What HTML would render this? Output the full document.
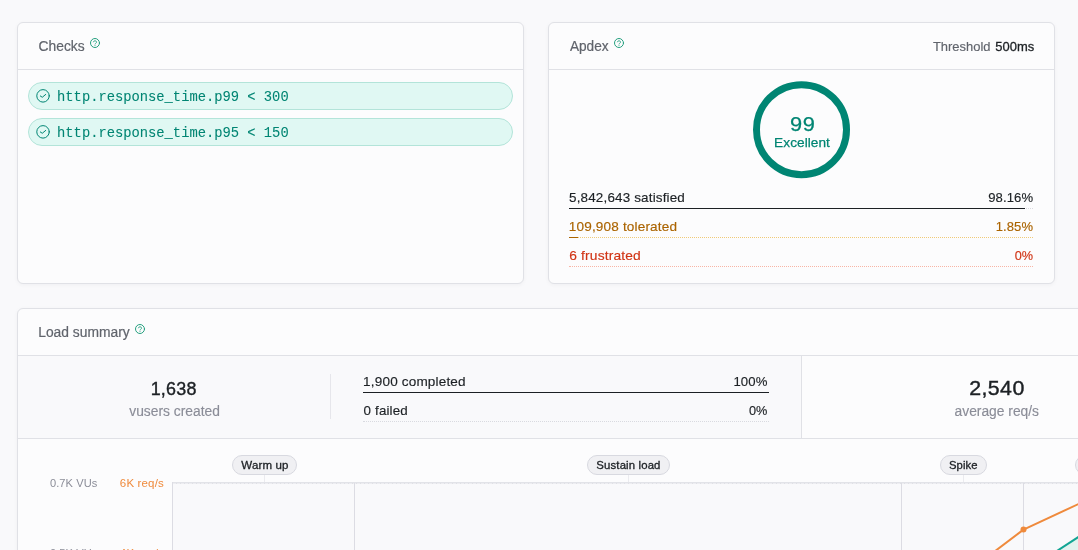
<!DOCTYPE html>
<html lang="en">
<head>
<meta charset="utf-8">
<title>Load test report</title>
<style>
*{box-sizing:border-box;margin:0;padding:0}
html,body{width:1078px;height:550px;overflow:hidden;background:#f9f9fb}
body{font-family:"Liberation Sans",Arial,sans-serif;font-size:14px;line-height:20px;color:#1c2024;position:relative}
main{position:absolute;left:0;top:0;width:1078px;height:550px;overflow:hidden}
h2,h3,dt,dd,li,ul,dl,strong,code{font:inherit;font-weight:normal;list-style:none}
.card{position:absolute;background:#fcfcfd;border:1px solid #e0e1e6;border-radius:6px;box-shadow:0 1px 4px rgba(0,0,45,.045)}
.hd{position:absolute;border-bottom:1px solid #e0e1e6}
.b,.grp{position:absolute}
.ic{position:absolute;display:block;overflow:visible}
.t{position:absolute;left:0;white-space:pre;line-height:20px;height:20px;transform-origin:0 0}
.m{font-family:"Liberation Mono",monospace}
.pill{position:absolute;height:28px;border:1px solid #b3e4d9;background:#e0f8f3;border-radius:14px}
.tag{position:absolute;height:20px;border:1px solid #d8d9e0;background:#f0f0f3;border-radius:10px}
.row{position:absolute;height:21px}
.dots{position:absolute;left:0;bottom:0;width:100%;height:0;border-top:1px dotted #d9dae0}
.bar{position:absolute;left:0;bottom:0;height:1px;background:#1c2024}
.stats{position:absolute;border-bottom:1px solid #e0e1e6}
.stat{position:absolute;top:0;height:82px}
</style>
</head>
<body>
<main class="page" style="left:0px;top:0px">
  <section class="card" style="left:17px;top:22px;width:507px;height:262px">
    <header class="hd" style="left:0px;top:0px;width:505px;height:47px">
      <h2 id="t_checks" class="t" style="top:13px;font-size:14px;color:#60646c;transform:translateX(20.54px) scaleX(0.9874);-webkit-text-stroke:0.2px #60646c">Checks</h2>
      <svg class="ic" style="left:71px;top:14px" width="12" height="12" viewBox="0 0 12 12" fill="none" stroke="#25a07f" stroke-width="1" stroke-linecap="round" stroke-linejoin="round" aria-label="Help" role="img"><circle cx="6" cy="6" r="4.5"/><path d="M4.4 4.9 A1.65 1.65 0 0 1 7.6 5.1 C7.6 6.2 6 6.2 6 7" stroke-width="0.85"/><path d="M6 8.45h.01" stroke-width="0.95"/></svg>
    </header>
    <ul class="grp" style="left:0px;top:47px;width:505px;height:100px">
      <li class="pill" style="left:10px;top:12px;width:485px">
        <svg class="ic" style="left:6px;top:5px" width="16" height="16" viewBox="0 0 16 16" fill="none" stroke="#008573" stroke-width="1" stroke-linecap="round" stroke-linejoin="round" aria-hidden="true"><g transform="translate(0.53 0.36)"><circle cx="7.5" cy="7.5" r="6.25"/><path d="M4.8 7.6 L6.75 8.9 L10.2 6.05"/></g></svg>
        <code id="t_m1" class="t m" style="top:4px;font-size:14px;color:#008573;transform:translateX(28.08px) scaleX(0.9844);-webkit-text-stroke:0.08px #008573">http.response_time.p99 &lt; 300</code>
      </li>
      <li class="pill" style="left:10px;top:48px;width:485px">
        <svg class="ic" style="left:6px;top:5px" width="16" height="16" viewBox="0 0 16 16" fill="none" stroke="#008573" stroke-width="1" stroke-linecap="round" stroke-linejoin="round" aria-hidden="true"><g transform="translate(0.53 0.36)"><circle cx="7.5" cy="7.5" r="6.25"/><path d="M4.8 7.6 L6.75 8.9 L10.2 6.05"/></g></svg>
        <code id="t_m2" class="t m" style="top:4px;font-size:14px;color:#008573;transform:translateX(28.08px) scaleX(0.9844);-webkit-text-stroke:0.08px #008573">http.response_time.p95 &lt; 150</code>
      </li>
    </ul>
  </section>
  <section class="card" style="left:548px;top:22px;width:507px;height:262px">
    <header class="hd" style="left:0px;top:0px;width:505px;height:47px">
      <h2 id="t_apdex" class="t" style="top:13px;font-size:14px;color:#60646c;transform:translateX(20.90px) scaleX(0.9750);-webkit-text-stroke:0.2px #60646c">Apdex</h2>
      <svg class="ic" style="left:64px;top:14px" width="12" height="12" viewBox="0 0 12 12" fill="none" stroke="#25a07f" stroke-width="1" stroke-linecap="round" stroke-linejoin="round" aria-label="Help" role="img"><circle cx="6" cy="6" r="4.5"/><path d="M4.4 4.9 A1.65 1.65 0 0 1 7.6 5.1 C7.6 6.2 6 6.2 6 7" stroke-width="0.85"/><path d="M6 8.45h.01" stroke-width="0.95"/></svg>
      <span id="t_thr" class="t" style="top:14px;font-size:13px;color:#60646c;transform:translateX(383.90px) scaleX(0.9959);-webkit-text-stroke:0.15px #60646c">Threshold</span>
      <strong id="t_500" class="t" style="top:14px;font-size:13px;color:#1c2024;letter-spacing:0.052px;transform:translateX(446.27px) scaleX(0.9958);-webkit-text-stroke:0.3px #1c2024">500ms</strong>
    </header>
    <div class="grp" style="left:202px;top:56px;width:102px;height:102px">
      <svg class="ic" style="left:0;top:0" width="102" height="102" viewBox="0 0 102 102" aria-hidden="true"><circle cx="50.5" cy="50.65" r="45" fill="none" stroke="#008573" stroke-width="7"/></svg>
      <strong id="t_99" class="t" style="top:35px;font-size:21px;color:#008573;letter-spacing:0.420px;transform:translateX(39.10px) scaleX(1.0384);-webkit-text-stroke:0.25px #008573">99</strong>
      <span id="t_exc" class="t" style="top:54px;font-size:13.5px;color:#008573;letter-spacing:0.054px;transform:translateX(23.12px) scaleX(1.0096);-webkit-text-stroke:0.25px #008573">Excellent</span>
    </div>
    <dl class="grp" style="left:20px;top:165px;width:464px;height:79px">
      <div class="row" style="left:0px;top:0px;width:464px">
        <dt id="t_sat" class="t" style="top:0px;font-size:13px;color:#1c2024;letter-spacing:0.156px;transform:translateX(0.06px) scaleX(1.0343);-webkit-text-stroke:0.15px #1c2024">5,842,643 satisfied</dt>
        <dd id="t_satp" class="t" style="top:0px;font-size:13px;color:#1c2024;letter-spacing:0.104px;transform:translateX(419.14px) scaleX(1.0065);-webkit-text-stroke:0.15px #1c2024">98.16%</dd>
        <i class="dots" style="border-top-color:#d9dae0"></i>
        <i class="bar" style="width:456px;background:#1c2024"></i>
      </div>
      <div class="row" style="left:0px;top:29px;width:464px">
        <dt id="t_tol" class="t" style="top:0px;font-size:13px;color:#ab6400;letter-spacing:0.156px;transform:translateX(-0.24px) scaleX(1.0438);-webkit-text-stroke:0.15px #ab6400">109,908 tolerated</dt>
        <dd id="t_tolp" class="t" style="top:0px;font-size:13px;color:#ab6400;letter-spacing:0.104px;transform:translateX(426.69px) scaleX(1.0010);-webkit-text-stroke:0.15px #ab6400">1.85%</dd>
        <i class="dots" style="border-top-color:#f0ca78"></i>
        <i class="bar" style="width:9px;background:#ab6400"></i>
      </div>
      <div class="row" style="left:0px;top:58px;width:464px">
        <dt id="t_fru" class="t" style="top:0px;font-size:13px;color:#d13415;letter-spacing:0.156px;transform:translateX(0.25px) scaleX(1.0602);-webkit-text-stroke:0.15px #d13415">6 frustrated</dt>
        <dd id="t_frup" class="t" style="top:0px;font-size:13px;color:#d13415;letter-spacing:0.052px;transform:translateX(445.72px) scaleX(0.9763);-webkit-text-stroke:0.15px #d13415">0%</dd>
        <i class="dots" style="border-top-color:#f8b5a6"></i>
      </div>
    </dl>
  </section>
  <section class="card" style="left:17px;top:308px;width:1400px;height:600px">
    <header class="hd" style="left:0px;top:0px;width:1398px;height:47px">
      <h2 id="t_load" class="t" style="top:13px;font-size:14px;color:#60646c;transform:translateX(20.21px) scaleX(0.9885);-webkit-text-stroke:0.2px #60646c">Load summary</h2>
      <svg class="ic" style="left:116px;top:14px" width="12" height="12" viewBox="0 0 12 12" fill="none" stroke="#25a07f" stroke-width="1" stroke-linecap="round" stroke-linejoin="round" aria-label="Help" role="img"><circle cx="6" cy="6" r="4.5"/><path d="M4.4 4.9 A1.65 1.65 0 0 1 7.6 5.1 C7.6 6.2 6 6.2 6 7" stroke-width="0.85"/><path d="M6 8.45h.01" stroke-width="0.95"/></svg>
    </header>
    <div class="stats" style="left:0px;top:47px;width:1398px;height:83px">
      <div class="stat" style="left:0px;top:0px;width:784px;background:#f9f9fb;border-right:1px solid #e0e1e6">
        <strong id="t_1638" class="t" style="top:23px;font-size:18px;color:#1c2024;letter-spacing:0.270px;transform:translateX(132.63px) scaleX(0.9950);-webkit-text-stroke:0.4px #1c2024">1,638</strong>
        <span id="t_vus" class="t" style="top:45px;font-size:14px;color:#8b8d98;transform:translateX(111.27px) scaleX(0.9870);-webkit-text-stroke:0.15px #8b8d98">vusers created</span>
        <i class="b" style="left:312px;top:18px;width:1px;height:45px;background:#e6e6eb"></i>
        <dl class="grp" style="left:345px;top:16px;width:406px;height:50px">
          <div class="row" style="left:0px;top:0px;width:406px">
            <dt id="t_comp" class="t" style="top:0px;font-size:13px;color:#1c2024;letter-spacing:0.156px;transform:translateX(0.12px) scaleX(1.0422);-webkit-text-stroke:0.15px #1c2024">1,900 completed</dt>
            <dd id="t_100" class="t" style="top:0px;font-size:13px;color:#1c2024;letter-spacing:0.104px;transform:translateX(370.39px) scaleX(1.0122);-webkit-text-stroke:0.15px #1c2024">100%</dd>
            <i class="bar" style="width:406px"></i>
          </div>
          <div class="row" style="left:0px;top:29px;width:406px">
            <dt id="t_fail" class="t" style="top:0px;font-size:13px;color:#1c2024;letter-spacing:0.156px;transform:translateX(0.55px) scaleX(1.0281);-webkit-text-stroke:0.15px #1c2024">0 failed</dt>
            <dd id="t_0" class="t" style="top:0px;font-size:13px;color:#1c2024;letter-spacing:0.052px;transform:translateX(385.99px) scaleX(0.9792);-webkit-text-stroke:0.15px #1c2024">0%</dd>
            <i class="dots"></i>
          </div>
        </dl>
      </div>
      <div class="stat" style="left:784px;top:0px;width:390px">
        <strong id="t_2540" class="t" style="top:22px;font-size:20px;color:#1c2024;letter-spacing:0.400px;transform:translateX(167.16px) scaleX(1.0669);-webkit-text-stroke:0.4px #1c2024">2,540</strong>
        <span id="t_avg" class="t" style="top:45px;font-size:14px;color:#8b8d98;transform:translateX(152.56px) scaleX(0.9865);-webkit-text-stroke:0.15px #8b8d98">average req/s</span>
      </div>
    </div>
    <div class="grp" style="left:0px;top:131px;width:1398px;height:200px">
      <svg class="ic" style="left:-18px;top:0px" width="1078" height="110" viewBox="0 440 1078 110" aria-hidden="true">
      <rect x="172" y="482" width="906" height="68" fill="#f9f9fb"/>
      <g fill="none" stroke-width="1">
      <line x1="172" y1="482.5" x2="1078" y2="482.5" stroke="#e2e3e8"/>
      <line x1="173" y1="483.5" x2="1078" y2="483.5" stroke="#ededf1"/>
      <line x1="176" y1="483.5" x2="1078" y2="483.5" stroke="#dfe0e5" stroke-dasharray="1 3"/>
      <line x1="172.5" y1="482" x2="172.5" y2="550" stroke="#dcdce3"/>
      <line x1="354.5" y1="483" x2="354.5" y2="550" stroke="#dcdce3"/>
      <line x1="901.5" y1="483" x2="901.5" y2="550" stroke="#dcdce3"/>
      <line x1="1023.5" y1="483" x2="1023.5" y2="550" stroke="#dcdce3"/>
      <line x1="264.5" y1="475" x2="264.5" y2="482" stroke="#ebebef"/>
      <line x1="628.5" y1="475" x2="628.5" y2="482" stroke="#ebebef"/>
      <line x1="963.5" y1="475" x2="963.5" y2="482" stroke="#ebebef"/>
      </g>
      <path d="M1058.4 550 L1078 537.2 L1078 551 L1058.4 551 Z" fill="#e3f2ef"/>
      <path d="M1056.9 551 L1079.5 536.2" stroke="#12a594" stroke-width="2" fill="none"/>
      <path d="M995.2 551 L1023.5 529.6 L1080 503.3" stroke="#ef8a3c" stroke-width="2" fill="none" stroke-linejoin="round"/>
      <circle cx="1023.5" cy="529.6" r="3" fill="#ef8a3c"/>
      </svg>
      <div class="tag" style="left:214px;top:15px;width:65px">
        <span id="t_p1" class="t" style="top:-1px;font-size:11px;color:#1c2024;letter-spacing:0.132px;transform:translateX(8.35px) scaleX(1.0476);-webkit-text-stroke:0.3px #1c2024">Warm up</span>
      </div>
      <div class="tag" style="left:569px;top:15px;width:83px">
        <span id="t_p2" class="t" style="top:-1px;font-size:11px;color:#1c2024;letter-spacing:0.132px;transform:translateX(8.34px) scaleX(1.0340);-webkit-text-stroke:0.3px #1c2024">Sustain load</span>
      </div>
      <div class="tag" style="left:922px;top:15px;width:47px">
        <span id="t_p3" class="t" style="top:-1px;font-size:11px;color:#1c2024;letter-spacing:0.088px;transform:translateX(7.98px) scaleX(1.0240);-webkit-text-stroke:0.3px #1c2024">Spike</span>
      </div>
      <div class="tag" style="left:1057px;top:15px;width:60px;height:20px"></div>
      <span id="t_vu1" class="t" style="top:33px;font-size:11px;color:#8b8d98;letter-spacing:0.088px;transform:translateX(31.94px) scaleX(1.0068)">0.7K VUs</span>
      <span id="t_rq1" class="t" style="top:33px;font-size:11px;color:#ef8a3c;letter-spacing:0.132px;transform:translateX(101.86px) scaleX(1.0473)">6K req/s</span>
      <span id="t_vu2" class="t" style="top:103px;font-size:11px;color:#8b8d98;letter-spacing:0.088px;transform:translateX(31.94px) scaleX(1.0068)">0.5K VUs</span>
      <span id="t_rq2" class="t" style="top:103px;font-size:11px;color:#ef8a3c;letter-spacing:0.132px;transform:translateX(101.86px) scaleX(1.0473)">4K req/s</span>
    </div>
  </section>
</main>
</body>
</html>
